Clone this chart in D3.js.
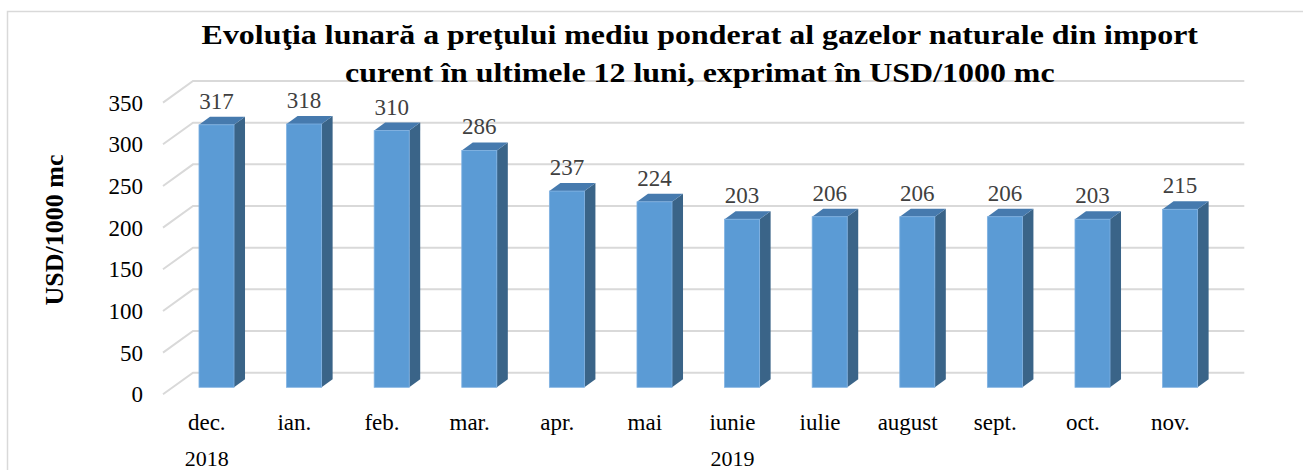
<!DOCTYPE html>
<html>
<head>
<meta charset="utf-8">
<script src="https://cdn.jsdelivr.net/npm/d3@7"></script>
<style>
  html, body { margin: 0; padding: 0; background: #fff; overflow: hidden; }
  svg { display: block; font-family: "Liberation Serif", "Times New Roman", serif; }
</style>
</head>
<body>
<svg id="chart" width="1303" height="470"></svg>
<script>
// ---- data ----
const categories = ["dec.", "ian.", "feb.", "mar.", "apr.", "mai", "iunie", "iulie", "august", "sept.", "oct.", "nov."];
const values = [317, 318, 310, 286, 237, 224, 203, 206, 206, 206, 203, 215];
const yearLabels = ["2018", "2019"];
const yearStart = [0, 1];
const yearEnd = [0, 11];
const yTicks = [0, 50, 100, 150, 200, 250, 300, 350];
const titleLines = [
  "Evoluţia lunară a preţului mediu ponderat al gazelor naturale din import",
  "curent în ultimele 12 luni, exprimat în USD/1000 mc"
];
const yTitle = "USD/1000 mc";

// ---- layout ----
const svg = d3.select("#chart");
const depthX = -30, depthY = 21.6;   // back wall -> front plane offset
const barDX = 11, barDY = -8;        // 3D bar depth

const xBack = d3.scaleBand().domain(categories).range([193, 1244.3]);
const xFront = d3.scaleBand().domain(categories).range([193 + depthX, 1244.3 + depthX]);
const xBar = d3.scaleBand().domain(categories).range([172.7, 1223.9]);
const yWall = d3.scaleLinear().domain([0, 350]).range([372.7, 81]);
const yBar = d3.scaleLinear().domain([0, 350]).range([387.3, 97.5]);
const barW = xBar.bandwidth() * 0.4;

// chart border
svg.append("rect")
  .attr("x", 7.5).attr("y", 11.5)
  .attr("width", 1400).attr("height", 600)
  .attr("fill", "none").attr("stroke", "#D9D9D9").attr("stroke-width", 1.5);

// gridlines (back wall + side wall)
const grid = svg.append("g").attr("stroke", "#D9D9D9").attr("stroke-width", 2).attr("fill", "none");
yTicks.forEach(t => {
  const yb = yWall(t);
  grid.append("path")
    .attr("d", `M${xBack.range()[0] + depthX},${yb + depthY}L${xBack.range()[0]},${yb}L${xBack.range()[1]},${yb}`);
});

// y tick labels
svg.append("g").selectAll("text").data(yTicks).join("text")
  .attr("x", 143)
  .attr("y", d => yWall(d) + depthY)
  .attr("dy", "0.35em")
  .attr("text-anchor", "end")
  .attr("font-size", 23)
  .attr("fill", "#000")
  .text(d => d);

// bars
const bars = svg.append("g");
categories.forEach((c, i) => {
  const v = values[i];
  const x0 = xBar(c) + (xBar.bandwidth() - barW) / 2;
  const x1 = x0 + barW;
  const yt = yBar(v), yb = yBar(0);
  // side
  bars.append("path")
    .attr("d", `M${x1},${yt}L${x1 + barDX},${yt + barDY}L${x1 + barDX},${yb + barDY}L${x1},${yb}Z`)
    .attr("fill", "#3A6488");
  // top
  bars.append("path")
    .attr("d", `M${x0},${yt}L${x0 + barDX},${yt + barDY}L${x1 + barDX},${yt + barDY}L${x1},${yt}Z`)
    .attr("fill", "#467AAE");
  // front
  bars.append("rect")
    .attr("x", x0).attr("y", yt)
    .attr("width", barW).attr("height", yb - yt)
    .attr("fill", "#5B9BD5")
    .attr("stroke", "#7FB1E2").attr("stroke-width", 0.8);
  // data label
  bars.append("text")
    .attr("x", x0 + barW / 2)
    .attr("y", yt - 16)
    .attr("text-anchor", "middle")
    .attr("font-size", 23)
    .attr("fill", "#404040")
    .text(v);
});

// category labels
svg.append("g").selectAll("text").data(categories).join("text")
  .attr("x", d => xFront(d) + xFront.bandwidth() / 2)
  .attr("y", 430)
  .attr("text-anchor", "middle")
  .attr("font-size", 23)
  .attr("fill", "#000")
  .text(d => d);

// year labels
svg.append("g").selectAll("text").data(yearLabels).join("text")
  .attr("x", (d, i) => (xFront(categories[yearStart[i]]) + xFront(categories[yearEnd[i]]) + xFront.bandwidth()) / 2)
  .attr("y", 466)
  .attr("text-anchor", "middle")
  .attr("font-size", 22)
  .attr("fill", "#000")
  .text(d => d);

// title
const titleTargets = [997, 710];
const titleBase = [44.3, 81.7];
titleLines.forEach((line, i) => {
  const t = svg.append("text")
    .attr("x", 0).attr("y", 0)
    .attr("text-anchor", "middle")
    .attr("font-size", 28)
    .attr("font-weight", "bold")
    .attr("fill", "#000")
    .text(line);
  const w = t.node().getComputedTextLength();
  const sx = titleTargets[i] / w;
  t.attr("transform", `translate(${699.8},${titleBase[i]}) scale(${sx},1)`);
});

// y axis title
svg.append("text")
  .attr("transform", "translate(54,230) rotate(-90)")
  .attr("text-anchor", "middle")
  .attr("dy", "0.35em")
  .attr("font-size", 26)
  .attr("font-weight", "bold")
  .attr("fill", "#000")
  .text(yTitle);
</script>
</body>
</html>
